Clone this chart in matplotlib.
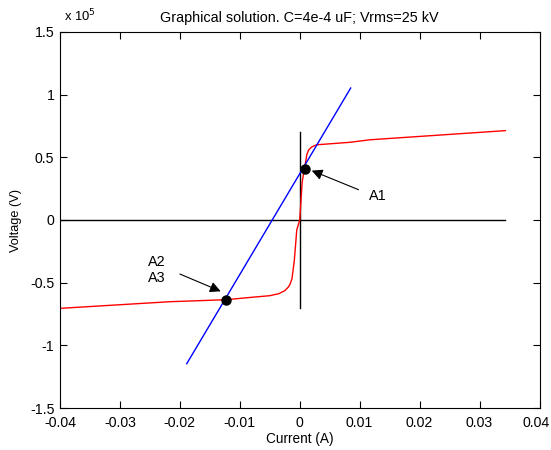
import matplotlib
matplotlib.use("Agg")
import matplotlib.pyplot as plt
import matplotlib.transforms as mtransforms
from matplotlib.ticker import FixedLocator, FixedFormatter

plt.rcParams['font.family'] = ['Liberation Sans', 'DejaVu Sans']

# Nonlinear (red) characteristic: current (A), voltage (V)
red_I = [-0.04, -0.0217, -0.0123, -0.0083, -0.005, -0.0035, -0.0025, -0.0019,
         -0.0016, -0.0013, -0.0009, -0.0005, 0.0, 0.0002, 0.0004, 0.0006,
         0.0008, 0.0010, 0.0012, 0.0015, 0.002, 0.0028, 0.0084, 0.0117, 0.0343]
red_V = [-70500, -65200, -63600, -61800, -60400, -58800, -56400, -53500,
         -51000, -47000, -32000, -8000, 0, 15000, 30000, 36000,
         41000, 47000, 52500, 56000, 58300, 60000, 62000, 64000, 71300]

# Linear (blue) line endpoints
blue_I = [-0.01886, 0.0085]
blue_V = [-114700, 105300]

# Black reference axes
hline_I = [-0.04, 0.0343]
hline_V = [0, 0]
vline_I = [0, 0]
vline_V = [-70000, 70000]

# Intersection points
pts_I = [0.0008, -0.0123]
pts_V = [41000, -63600]

xticks = [-0.04, -0.03, -0.02, -0.01, 0, 0.01, 0.02, 0.03, 0.04]
xtick_labels = ['-0.04', '-0.03', '-0.02', '-0.01', '0', '0.01', '0.02', '0.03', '0.04']
yticks = [-150000, -100000, -50000, 0, 50000, 100000, 150000]
ytick_labels = ['-1.5', '-1', '-0.5', '0', '0.5', '1', '1.5']

W, H = 551, 450
fig = plt.figure(figsize=(W / 100, H / 100), dpi=100)
left, right, top, bottom = 60, 539.5, 32, 408
ax = fig.add_axes([left / W, 1 - bottom / H, (right - left) / W, (bottom - top) / H])

ax.plot(hline_I, hline_V, color='black', lw=1)
ax.plot(vline_I, vline_V, color='black', lw=1)
ax.plot(red_I, red_V, color='#ff0000', lw=1)
ax.plot(blue_I, blue_V, color='#0000ff', lw=1)
ax.plot(pts_I, pts_V, 'o', color='black', ms=6.5, ls='none')

fs = 10.2
arrow = dict(arrowstyle='-|>', color='black', lw=0.8, mutation_scale=16,
             shrinkA=0, shrinkB=0)
ax.annotate('', xy=(0.0020, 39400), xytext=(0.0098, 24200), arrowprops=arrow)
ax.text(0.0116, 18800, 'A1', fontsize=10.4, ha='left', va='center')
ax.annotate('', xy=(-0.01319, -56900), xytext=(-0.0200, -43100), arrowprops=arrow)
ax.text(-0.0253, -33500, 'A2', fontsize=10.4, ha='left', va='center')
ax.text(-0.0253, -46300, 'A3', fontsize=10.4, ha='left', va='center')

ax.set_xlim(-0.04, 0.04)
ax.set_ylim(-150000, 150000)
ax.xaxis.set_major_locator(FixedLocator(xticks))
ax.xaxis.set_major_formatter(FixedFormatter(xtick_labels))
ax.yaxis.set_major_locator(FixedLocator(yticks))
ax.yaxis.set_major_formatter(FixedFormatter(ytick_labels))
ax.tick_params(direction='in', length=5, width=0.8, top=True, right=True,
               labelsize=fs)
ax.tick_params(axis='x', pad=5.5)
ax.tick_params(axis='y', pad=4)
for s in ax.spines.values():
    s.set_linewidth(0.8)

# keep the last x tick label inside the figure, as in the reference
fig.canvas.draw()
last = ax.get_xticklabels()[-1]
last.set_transform(last.get_transform() +
                   mtransforms.ScaledTranslation(-3 / 100, 0, fig.dpi_scale_trans))

ax.set_xlabel('Current (A)', fontsize=9.8, labelpad=2)
ax.set_ylabel('Voltage (V)', fontsize=9.2, labelpad=6)
ax.set_title('Graphical solution. C=4e-4 uF; Vrms=25 kV', fontsize=10.4, pad=7)
fig.text(64 / W, 1 - 16 / H, r'x 10$^{5}$', fontsize=9.4, ha='left', va='center')

fig.savefig('out.png', dpi=100, facecolor='white')
